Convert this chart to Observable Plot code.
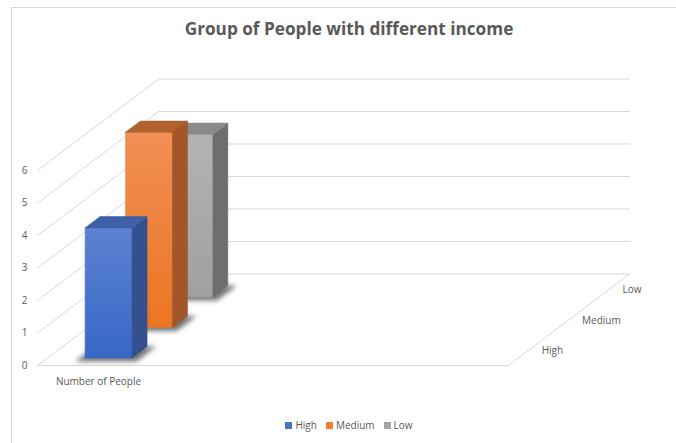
<!DOCTYPE html>
<html>
<head>
<meta charset="utf-8">
<script src="https://cdn.jsdelivr.net/npm/d3@7"></script>
<script src="https://cdn.jsdelivr.net/npm/@observablehq/plot@0.6"></script>
<style>
  html, body { margin: 0; padding: 0; background: #fff; }
  #wrap { position: relative; width: 676px; height: 443px; overflow: hidden; font-family: "Open Sans", sans-serif; }
  #box { position: absolute; left: 11px; top: 7px; width: 700px; height: 460px; border-left: 1px solid #d9d9d9; border-top: 1px solid #d9d9d9; }
  #title { position: absolute; left: 11px; width: 676px; top: 17px; text-align: center; font-size: 17.2px; font-weight: bold; color: #595959; }
  #chart { position: absolute; left: 0; top: 0; }
  #legend { position: absolute; left: 11px; width: 676px; top: 418px; display: flex; justify-content: center; gap: 9px; font-size: 10px; color: #595959; }
  #legend span.item { display: flex; align-items: center; }
  #legend i { display: inline-block; width: 7px; height: 7px; margin-right: 3px; }
</style>
</head>
<body>
<div id="wrap">
  <div id="box"></div>
  <div id="chart"></div>
  <div id="title"></div>
  <div id="legend"></div>
</div>
<script>
// ---- data ----
const chartTitle = "Group of People with different income";
const categories = ["Number of People"];
const series = ["High", "Medium", "Low"];
const values = [4, 6, 5];
const yTicks = [0, 1, 2, 3, 4, 5, 6];

// ---- styles ----
const palette = {
  High:   {front: "url(#gHigh)", side: "#34518f", top: "#3d60a9", legend: "#4472c4"},
  Medium: {front: "url(#gMedium)", side: "#a3562a", top: "#b0612d", legend: "#ed7d31"},
  Low:    {front: "url(#gLow)", side: "#6e6e6e", top: "#8a8a8a", legend: "#a5a5a5"}
};
const gridColor = "#d9d9d9";

// ---- oblique projection (layout constants) ----
const floorWidth = 471;        // x-domain width of the front plane
const depthSlots = series.length;
const DX = 40.4;               // x units per depth slot
const DY = 0.9385;             // y units per depth slot
const barU0 = 37.5, barU1 = 84.5;
const barW0 = 0.25, barW1 = 0.62;

const P = (u, v, w) => ({x: u + w * DX, y: v + w * DY});

function poly(id, pts, extra) {
  const arr = pts.map(p => Object.assign({id}, p, extra));
  arr.push(Object.assign({id}, pts[0], extra));
  return arr;
}

// grid lines (back wall, left wall, floor)
const grid = [];
yTicks.forEach(k => {
  grid.push({id: "b" + k, ...P(0, k, depthSlots)}, {id: "b" + k, ...P(floorWidth, k, depthSlots)});
  grid.push({id: "l" + k, ...P(0, k, 0)}, {id: "l" + k, ...P(0, k, depthSlots)});
});
grid.push({id: "ff", ...P(0, 0, 0)}, {id: "ff", ...P(floorWidth, 0, 0)});
grid.push({id: "fr", ...P(floorWidth, 0, 0)}, {id: "fr", ...P(floorWidth, 0, depthSlots)});

// bars: back to front
const faces = [];
const shadows = [];
for (let i = series.length - 1; i >= 0; i--) {
  const s = series[i], v = values[i], c = palette[s];
  const w0 = i + barW0, w1 = i + barW1;
  shadows.push(...poly("sh" + i, [
    P(barU0 - 5, 0, w0 - 0.12), P(barU1 + 9, 0, w0 - 0.12),
    P(barU1 + 9, 0, w1), P(barU0 - 5, 0, w1)
  ]));
  faces.push(...poly("f" + i, [P(barU0, 0, w0), P(barU1, 0, w0), P(barU1, v, w0), P(barU0, v, w0)], {fill: c.front}));
  faces.push(...poly("s" + i, [P(barU1, 0, w0), P(barU1, 0, w1), P(barU1, v, w1), P(barU1, v, w0)], {fill: c.side}));
  faces.push(...poly("t" + i, [P(barU0, v, w0), P(barU1, v, w0), P(barU1, v, w1), P(barU0, v, w1)], {fill: c.top}));
}

const seriesLabels = series.map((s, i) => ({s, ...P(floorWidth, 0, i + 0.5)}));
const catLabels = categories.map(c => ({c, ...P((barU0 + barU1) / 2, 0, 0)}));

const svg = Plot.plot({
  width: 676,
  height: 443,
  marginLeft: 37,
  marginRight: 168,
  marginTop: 170,
  marginBottom: 78,
  style: {background: "transparent", fontFamily: "Open Sans, sans-serif", fontSize: "10px", color: "#595959", overflow: "visible"},
  x: {domain: [0, floorWidth], axis: null},
  y: {domain: [0, 6], ticks: yTicks, tickSize: 0, tickPadding: 10, label: null, tickFormat: d3.format("d")},
  color: {type: "identity"},
  marks: [
    Plot.line(grid, {x: "x", y: "y", z: "id", stroke: gridColor, strokeWidth: 1}),
    Plot.line(shadows, {x: "x", y: "y", z: "id", fill: "#000", fillOpacity: 0.55, stroke: "none", ariaDescription: "shadow"}),
    Plot.line(faces, {x: "x", y: "y", z: "id", fill: "fill", stroke: "fill", strokeWidth: 0.6}),
    Plot.text(catLabels, {x: "x", y: "y", text: "c", dy: 16, fill: "#595959", fontSize: 10}),
    Plot.text(seriesLabels, {x: "x", y: "y", text: "s", dx: 13, dy: 1, textAnchor: "start", fill: "#595959", fontSize: 10})
  ]
});

// gradients and shadow blur
const sel = d3.select(svg);
const defs = sel.insert("defs", ":first-child");
const grads = {gHigh: ["#5c82d2", "#3767c6"], gMedium: ["#f18f55", "#ec7522"], gLow: ["#b3b3b3", "#a0a0a0"]};
for (const [id, [a, b]] of Object.entries(grads)) {
  const g = defs.append("linearGradient").attr("id", id).attr("x1", 0).attr("y1", 0).attr("x2", 0).attr("y2", 1);
  g.append("stop").attr("offset", "0%").attr("stop-color", a);
  g.append("stop").attr("offset", "100%").attr("stop-color", b);
}
defs.append("filter").attr("id", "blur").attr("x", "-50%").attr("y", "-50%").attr("width", "200%").attr("height", "200%")
  .append("feGaussianBlur").attr("stdDeviation", 2.5);
sel.selectAll("g[aria-description='shadow']").attr("filter", "url(#blur)");

document.getElementById("chart").appendChild(svg);
document.getElementById("title").textContent = chartTitle;
const legend = d3.select("#legend");
series.forEach(s => {
  const it = legend.append("span").attr("class", "item");
  it.append("i").style("background", palette[s].legend);
  it.append("span").text(s);
});
</script>
</body>
</html>
